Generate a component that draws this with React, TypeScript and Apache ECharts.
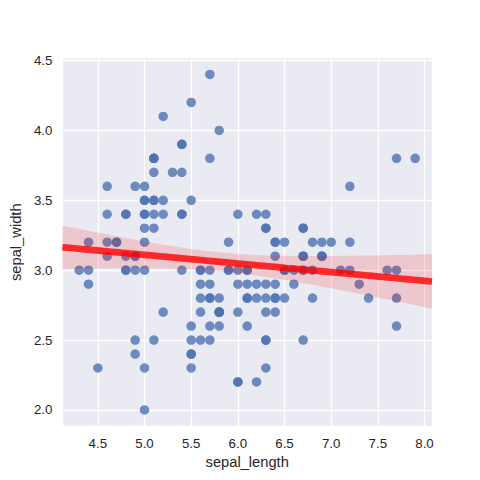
import React, { useEffect, useRef } from "react";
import * as echarts from "echarts";

// Iris sepal measurements (setosa, versicolor, virginica)
const sepalLength = [
  5.1, 4.9, 4.7, 4.6, 5.0, 5.4, 4.6, 5.0, 4.4, 4.9, 5.4, 4.8, 4.8, 4.3, 5.8, 5.7, 5.4, 5.1, 5.7, 5.1,
  5.4, 5.1, 4.6, 5.1, 4.8, 5.0, 5.0, 5.2, 5.2, 4.7, 4.8, 5.4, 5.2, 5.5, 4.9, 5.0, 5.5, 4.9, 4.4, 5.1,
  5.0, 4.5, 4.4, 5.0, 5.1, 4.8, 5.1, 4.6, 5.3, 5.0,
  7.0, 6.4, 6.9, 5.5, 6.5, 5.7, 6.3, 4.9, 6.6, 5.2, 5.0, 5.9, 6.0, 6.1, 5.6, 6.7, 5.6, 5.8, 6.2, 5.6,
  5.9, 6.1, 6.3, 6.1, 6.4, 6.6, 6.8, 6.7, 6.0, 5.7, 5.5, 5.5, 5.8, 6.0, 5.4, 6.0, 6.7, 6.3, 5.6, 5.5,
  5.5, 6.1, 5.8, 5.0, 5.6, 5.7, 5.7, 6.2, 5.1, 5.7,
  6.3, 5.8, 7.1, 6.3, 6.5, 7.6, 4.9, 7.3, 6.7, 7.2, 6.5, 6.4, 6.8, 5.7, 5.8, 6.4, 6.5, 7.7, 7.7, 6.0,
  6.9, 5.6, 7.7, 6.3, 6.7, 7.2, 6.2, 6.1, 6.4, 7.2, 7.4, 7.9, 6.4, 6.3, 6.1, 7.7, 6.3, 6.4, 6.0, 6.9,
  6.7, 6.9, 5.8, 6.8, 6.7, 6.7, 6.3, 6.5, 6.2, 5.9,
];

const sepalWidth = [
  3.5, 3.0, 3.2, 3.1, 3.6, 3.9, 3.4, 3.4, 2.9, 3.1, 3.7, 3.4, 3.0, 3.0, 4.0, 4.4, 3.9, 3.5, 3.8, 3.8,
  3.4, 3.7, 3.6, 3.3, 3.4, 3.0, 3.4, 3.5, 3.4, 3.2, 3.1, 3.4, 4.1, 4.2, 3.1, 3.2, 3.5, 3.6, 3.0, 3.4,
  3.5, 2.3, 3.2, 3.5, 3.8, 3.0, 3.8, 3.2, 3.7, 3.3,
  3.2, 3.2, 3.1, 2.3, 2.8, 2.8, 3.3, 2.4, 2.9, 2.7, 2.0, 3.0, 2.2, 2.9, 2.9, 3.1, 3.0, 2.7, 2.2, 2.5,
  3.2, 2.8, 2.5, 2.8, 2.9, 3.0, 2.8, 3.0, 2.9, 2.6, 2.4, 2.4, 2.7, 2.7, 3.0, 3.4, 3.1, 2.3, 3.0, 2.5,
  2.6, 3.0, 2.6, 2.3, 2.7, 3.0, 2.9, 2.9, 2.5, 2.8,
  3.3, 2.7, 3.0, 2.9, 3.0, 3.0, 2.5, 2.9, 2.5, 3.6, 3.2, 2.7, 3.0, 2.5, 2.8, 3.2, 3.0, 3.8, 2.6, 2.2,
  3.2, 2.8, 2.8, 2.7, 3.3, 3.2, 2.8, 3.0, 2.8, 3.0, 2.8, 3.8, 2.8, 2.8, 2.6, 3.0, 3.4, 3.1, 3.0, 3.1,
  3.1, 3.1, 2.7, 3.2, 3.3, 3.0, 2.5, 3.0, 3.4, 3.0,
];

const xRange = [4.12, 8.08];
const yRange = [1.88, 4.52];
const xLabel = "sepal_length";
const yLabel = "sepal_width";

function fitRegression() {
  const n = sepalLength.length;
  const xbar = sepalLength.reduce((a, b) => a + b, 0) / n;
  const ybar = sepalWidth.reduce((a, b) => a + b, 0) / n;
  let sxx = 0;
  let sxy = 0;
  for (let i = 0; i < n; i++) {
    sxx += (sepalLength[i] - xbar) ** 2;
    sxy += (sepalLength[i] - xbar) * (sepalWidth[i] - ybar);
  }
  const slope = sxy / sxx;
  const intercept = ybar - slope * xbar;
  let sse = 0;
  for (let i = 0; i < n; i++) {
    sse += (sepalWidth[i] - (intercept + slope * sepalLength[i])) ** 2;
  }
  const s = Math.sqrt(sse / (n - 2));
  const steps = 100;
  const line: number[][] = [];
  const upper: number[][] = [];
  const lower: number[][] = [];
  for (let k = 0; k < steps; k++) {
    const x = xRange[0] + ((xRange[1] - xRange[0]) * k) / (steps - 1);
    const yhat = intercept + slope * x;
    const se = s * Math.sqrt(1 / n + (x - xbar) ** 2 / sxx);
    const half = 1.9 * se;
    line.push([x, yhat]);
    upper.push([x, yhat + half]);
    lower.push([x, yhat - half]);
  }
  return { line, upper, lower };
}

export default function App() {
  const ref = useRef<HTMLDivElement>(null);

  useEffect(() => {
    document.body.style.margin = "0";
    if (!ref.current) return;
    const chart = echarts.init(ref.current, undefined, { renderer: "svg" });
    const { line, upper, lower } = fitRegression();
    const font = "'Liberation Sans', Arial, sans-serif";
    const textColor = "#262626";

    chart.setOption({
      animation: false,
      backgroundColor: "#ffffff",
      textStyle: { fontFamily: font },
      grid: {
        left: 60,
        top: 57.7,
        right: 48,
        bottom: 53.3,
        show: true,
        backgroundColor: "#EAEAF2",
        borderWidth: 0,
      },
      xAxis: {
        type: "value",
        min: xRange[0],
        max: xRange[1],
        splitNumber: 8,
        name: xLabel,
        nameLocation: "middle",
        nameGap: 22,
        nameTextStyle: { color: textColor, fontSize: 14.7, fontFamily: font },
        axisLine: { show: false },
        axisTick: { show: false },
        axisLabel: {
          color: textColor,
          fontSize: 13.3,
          fontFamily: font,
          margin: 10,
          showMinLabel: false,
          showMaxLabel: false,
          formatter: (v: number) => v.toFixed(1),
        },
        splitLine: { show: true, lineStyle: { color: "#ffffff", width: 1.3 } },
      },
      yAxis: {
        type: "value",
        min: yRange[0],
        max: yRange[1],
        splitNumber: 5,
        name: yLabel,
        nameLocation: "middle",
        nameGap: 34,
        nameRotate: 90,
        nameTextStyle: { color: textColor, fontSize: 14.7, fontFamily: font },
        axisLine: { show: false },
        axisTick: { show: false },
        axisLabel: {
          color: textColor,
          fontSize: 13.3,
          fontFamily: font,
          margin: 10,
          showMinLabel: false,
          showMaxLabel: false,
          formatter: (v: number) => v.toFixed(1),
        },
        splitLine: { show: true, lineStyle: { color: "#ffffff", width: 1.3 } },
      },
      series: [
        {
          type: "scatter",
          data: sepalLength.map((x, i) => [x, sepalWidth[i]]),
          symbolSize: 9.5,
          itemStyle: { color: "#4C72B0", opacity: 0.8 },
          z: 2,
        },
        {
          type: "custom",
          data: [[xRange[0], yRange[0]]],
          encode: { x: 0, y: 1 },
          z: 3,
          silent: true,
          renderItem: (params: any, api: any) => {
            const pts = upper
              .map((p) => api.coord(p))
              .concat(lower.slice().reverse().map((p) => api.coord(p)));
            return {
              type: "polygon",
              shape: { points: pts },
              style: { fill: "rgba(255,0,0,0.15)", stroke: "none" },
            };
          },
        },
        {
          type: "line",
          data: line,
          showSymbol: false,
          symbol: "none",
          lineStyle: { color: "#ff0000", width: 6.7, opacity: 0.8, cap: "butt" },
          z: 4,
        },
      ],
    });

    return () => {
      chart.dispose();
    };
  }, []);

  return <div ref={ref} style={{ width: 480, height: 480 }} />;
}
